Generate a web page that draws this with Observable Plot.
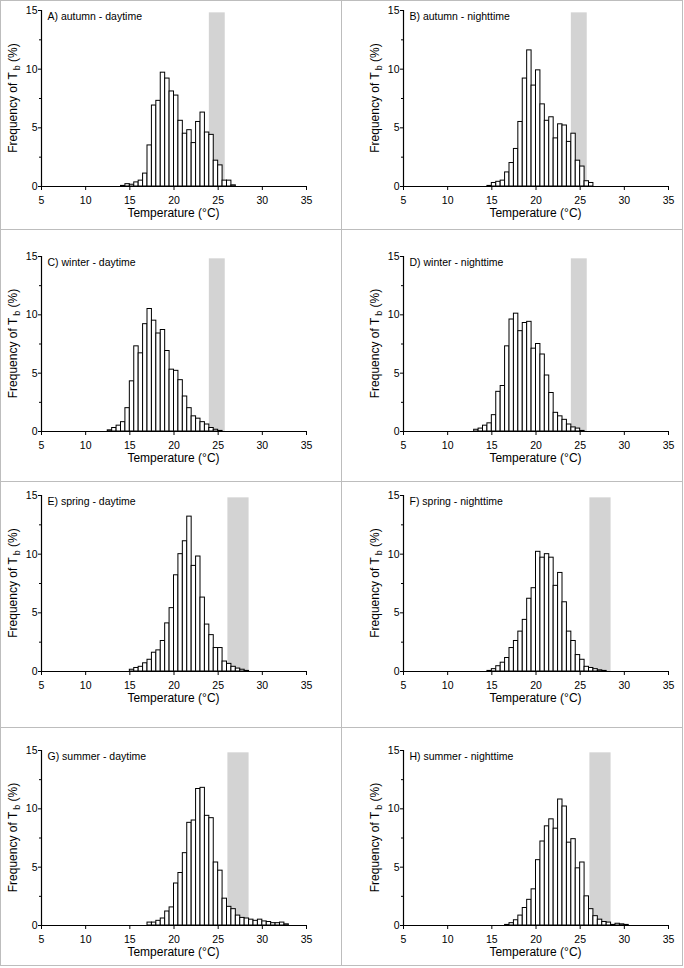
<!DOCTYPE html>
<html><head><meta charset="utf-8">
<script src="https://cdn.jsdelivr.net/npm/d3@7"></script>
<script src="https://cdn.jsdelivr.net/npm/@observablehq/plot@0.6"></script>
<style>
body{margin:0;background:#fff;}
#wrap{position:relative;width:684px;height:968px;overflow:hidden;background:#fff;}
.cell{position:absolute;}
.ln{position:absolute;background:#bdbdbd;}
</style></head><body><div id="wrap"></div>
<script>
// ---- data ----
const panelLabels = ["A) autumn - daytime","B) autumn - nighttime","C) winter - daytime","D) winter - nighttime",
                     "E) spring - daytime","F) spring - nighttime","G) summer - daytime","H) summer - nighttime"];
const binWidth = 0.5;
const firstBin = [14.0, 14.5, 12.5, 13.0, 15.0, 14.5, 17.0, 16.5];
const freqA = [0.05,0.2,0.15,0.35,0.5,1.1,3.5,6.9,7.3,9.7,9.2,8.1,7.75,5.6,4.5,4.8,3.7,5.5,6.3,4.6,4.4,2.2,1.8,0.5,0.5,0.1];
const freqB = [0.05,0.3,0.4,0.5,1.2,2.0,3.2,5.5,9.2,11.6,8.6,9.9,7.0,5.6,5.9,4.1,5.3,5.2,3.8,4.5,2.2,1.7,0.45,0.3];
const freqC = [0.1,0.3,0.5,0.8,2.0,4.3,7.3,6.7,9.2,10.5,9.5,8.4,8.7,6.9,5.3,5.2,4.4,3.0,2.0,1.3,1.1,0.8,0.6,0.3,0.15,0.05];
const freqD = [0.15,0.25,0.5,0.7,1.4,3.4,3.9,7.3,9.6,10.1,8.6,9.3,9.4,7.1,7.5,6.6,4.8,3.3,1.6,1.3,1.0,0.6,0.35,0.25,0.05];
const freqE = [0.15,0.3,0.4,0.7,1.0,1.6,1.8,2.6,4.1,5.4,8.2,10.0,11.1,13.2,9.0,9.8,6.3,4.0,3.1,2.0,2.0,0.85,0.65,0.4,0.25,0.15,0.05];
const freqF = [0.05,0.2,0.45,0.75,1.15,2.0,2.6,3.4,4.4,6.2,7.1,10.2,9.7,10.0,9.7,7.3,8.4,5.9,3.4,2.6,1.4,1.0,0.4,0.3,0.2,0.1,0.05];
const freqG = [0.25,0.25,0.4,0.6,1.2,1.55,3.6,4.5,6.2,8.8,9.0,11.7,11.8,9.4,9.2,5.4,4.7,2.3,1.6,1.4,0.85,0.65,0.6,0.5,0.4,0.5,0.35,0.3,0.2,0.2,0.25,0.1];
const freqH = [0.05,0.2,0.45,0.85,1.5,2.2,3.1,5.6,7.2,8.5,9.1,8.3,10.8,10.2,7.1,7.4,4.9,5.4,2.5,1.4,0.8,0.5,0.3,0.25,0.05,0.15,0.1,0.05];
const bandAutumnWinter = [24.0, 25.8];
const bandSpringSummer = [26.1, 28.5];
const bandTop = 14.8;
const xTicks = [5,10,15,20,25,30,35];
const yTicks = [0,5,10,15];
const yMinor = [2.5,7.5,12.5];
const xTitle = "Temperature (°C)";

// ---- layout ----
const freqs = [freqA,freqB,freqC,freqD,freqE,freqF,freqG,freqH];
const bands = [bandAutumnWinter,bandAutumnWinter,bandAutumnWinter,bandAutumnWinter,
               bandSpringSummer,bandSpringSummer,bandSpringSummer,bandSpringSummer];
const rows = [{top:0,h:229,mT:10,mB:43},{top:229,h:252,mT:27,mB:50},{top:481,h:246,mT:14,mB:56},{top:727,h:241,mT:23,mB:43}];
const cols = [{left:0,w:341,mL:41,mR:35},{left:342,w:341,mL:61,mR:15}];
const FONT = "'Liberation Sans', Arial, Helvetica, sans-serif";
const wrap = document.getElementById("wrap");

freqs.forEach((freq, i) => {
  const r = rows[Math.floor(i/2)], c = cols[i%2];
  const bins = freq.map((f, k) => ({x1: firstBin[i] + k*binWidth, x2: firstBin[i] + (k+1)*binWidth, f}));
  const band = bands[i];
  const chart = Plot.plot({
    width: c.w, height: r.h,
    marginLeft: c.mL, marginRight: c.mR, marginTop: r.mT, marginBottom: r.mB,
    x: {domain: [5, 35]},
    y: {domain: [0, 15]},
    style: {fontFamily: FONT, fontSize: "10.5px", color: "#000", background: "none", overflow: "visible"},
    marks: [
      Plot.rect([band], {x1: d => d[0], x2: d => d[1], y1: 0, y2: bandTop, fill: "#d3d3d3"}),
      Plot.rectY(bins, {x1: "x1", x2: "x2", y: "f", fill: "white", stroke: "#000", strokeWidth: 1}),
      Plot.ruleX([5], {y1: 0, y2: 15, stroke: "#000", strokeWidth: 1.2}),
      Plot.ruleY([0], {x1: 5, x2: 35, stroke: "#000", strokeWidth: 1.2}),
      Plot.axisX({ticks: xTicks, tickSize: 4, tickPadding: 6, label: null, fontSize: 10.5}),
      Plot.axisY({ticks: yTicks, tickSize: 3, tickPadding: 1, label: null, fontSize: 10.5}),
      Plot.axisY({ticks: yMinor, tickSize: 2, tickFormat: () => "", label: null}),
      Plot.text([panelLabels[i]], {text: d => d, frameAnchor: "top-left", dx: 6, dy: 2.5, lineAnchor: "top", textAnchor: "start", fontSize: 10.5, fill: "#000"})
    ]
  });
  const svg = d3.select(chart);
  const plotBottom = r.h - r.mB;
  svg.append("text")
    .attr("x", c.mL + (c.w - c.mL - c.mR)/2)
    .attr("y", plotBottom + 31)
    .attr("text-anchor", "middle")
    .style("font-size", "12px").style("font-family", FONT).attr("fill", "#000")
    .text(xTitle);
  const cy = r.mT + (plotBottom - r.mT)/2;
  const t = svg.append("text")
    .attr("transform", `translate(${c.mL - 28},${cy}) rotate(-90)`)
    .attr("text-anchor", "middle")
    .attr("dy", "0.35em")
    .style("font-size", "12px").style("font-family", FONT).attr("fill", "#000");
  t.append("tspan").text("Frequency of T");
  t.append("tspan").attr("dx", 2).attr("dy", 3).style("font-size", "9px").text("b");
  t.append("tspan").attr("dy", -3).text(" (%)");
  const cell = document.createElement("div");
  cell.className = "cell";
  cell.style.left = c.left + "px";
  cell.style.top = r.top + "px";
  cell.appendChild(chart);
  wrap.appendChild(cell);
});

// panel frame lines
function line(x, y, w, h) {
  const d = document.createElement("div");
  d.className = "ln";
  Object.assign(d.style, {left: x + "px", top: y + "px", width: w + "px", height: h + "px"});
  wrap.appendChild(d);
}
line(0, 0, 683, 1);
line(0, 965, 683, 1);
line(0, 0, 1, 966);
line(682, 0, 1, 966);
line(341, 0, 1, 966);
[229, 481, 727].forEach(y => line(0, y, 683, 1));
</script></body></html>
